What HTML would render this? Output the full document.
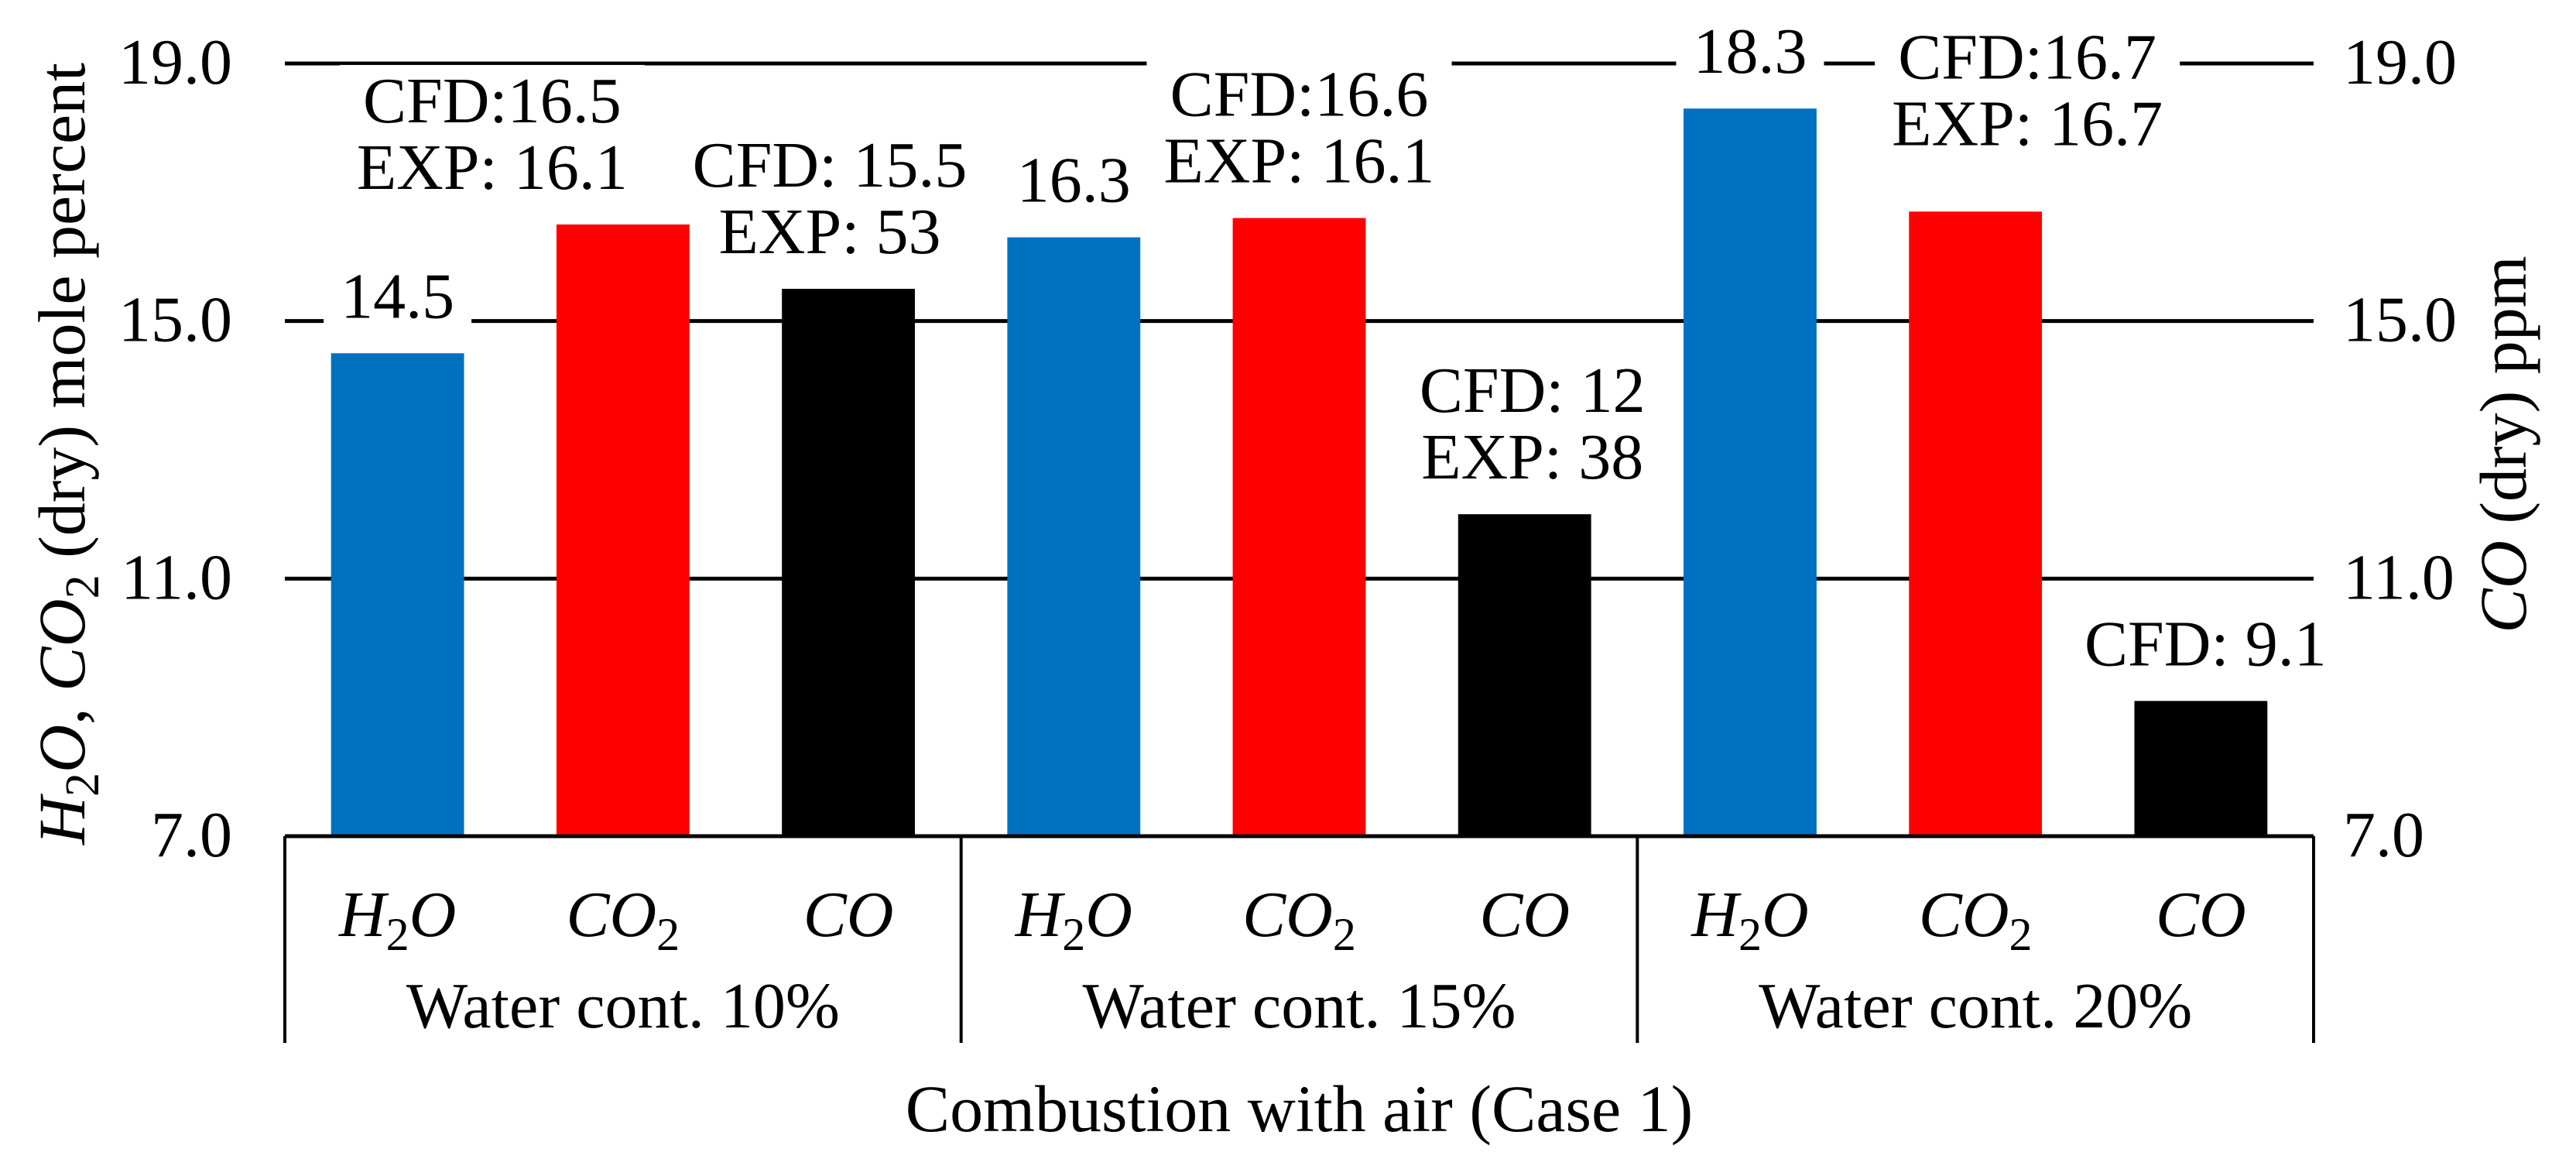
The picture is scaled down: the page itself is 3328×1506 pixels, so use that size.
<!DOCTYPE html>
<html><head><meta charset="utf-8"><style>
html,body{margin:0;padding:0;background:#fff;}
svg{display:block;font-family:"Liberation Serif","DejaVu Serif",serif;}
svg text{font-family:"Liberation Serif","DejaVu Serif",serif;fill:#000;}
</style></head><body>
<svg id="chart" width="3328" height="1506" viewBox="0 0 3328 1506" xmlns="http://www.w3.org/2000/svg" font-family="Liberation Serif, serif">
<rect x="0" y="0" width="3328" height="1506" fill="#fff"/>
<g id="grid"></g><g id="labelbg"></g><g id="bars"></g><g id="labels"></g><g id="axes"></g>
</svg>
<script>
const groups = ["Water cont. 10%", "Water cont. 15%", "Water cont. 20%"];
const species = ["H2O", "CO2", "CO"];
const values = [14.5, 16.5, 15.5, 16.3, 16.6, 12.0, 18.3, 16.7, 9.1];
const barLabels = [["14.5"], ["CFD:16.5", "EXP: 16.1"], ["CFD: 15.5", "EXP: 53"], ["16.3"], ["CFD:16.6", "EXP: 16.1"], ["CFD: 12", "EXP: 38"], ["18.3"], ["CFD:16.7", "EXP: 16.7"], ["CFD: 9.1"]];
const yTicks = [7, 11, 15, 19];
const yTickLabels = ["7.0", "11.0", "15.0", "19.0"];

const NS = "http://www.w3.org/2000/svg";
const FF = "Liberation Serif, serif";
const X0 = 368, X1 = 2989, Y0 = 1080, Y1 = 82, FS = 84;
const colors = {H2O: "#0070C0", CO2: "#FF0000", CO: "#000000"};
const labelDx = [0, -169, -24, 0, 0, 10, 0, 67, 6];
const labelLift = [0, 0, 0, 0, 0, 0, 0, 40, 0];
const catW = (X1 - X0) / (groups.length * species.length);
function y(v){ return Y0 - (v - yTicks[0]) / (yTicks[yTicks.length-1] - yTicks[0]) * (Y0 - Y1); }
function xc(i){ return X0 + catW * (i + 0.5); }
function mk(tag, attrs, parent){ const e = document.createElementNS(NS, tag); for (const k in attrs) e.setAttribute(k, attrs[k]); if (tag === 'text') e.setAttribute('font-family', FF); parent.appendChild(e); return e; }
const grid = document.getElementById('grid'), labelbg = document.getElementById('labelbg'), bars = document.getElementById('bars'), labels = document.getElementById('labels'), axes = document.getElementById('axes');

yTicks.forEach((t, i) => {
  if (i > 0) {
    const l = mk('line', {x1: X0, x2: X1, y1: y(t), y2: y(t), stroke: '#000', 'stroke-width': 5}, grid);
    
    
  }
  const tl = mk('text', {x: 300, y: y(t) + 26, 'text-anchor': 'end', 'font-size': FS}, axes);
  tl.textContent = yTickLabels[i];
  
  
  const tr = mk('text', {x: 3027, y: y(t) + 26, 'text-anchor': 'start', 'font-size': FS}, axes);
  tr.textContent = yTickLabels[i];
  
  
});

const bw = catW * 0.59;
values.forEach((v, i) => {
  const sp = species[i % 3];
  const r = mk('rect', {x: xc(i) - bw/2, y: y(v), width: bw, height: Y0 - y(v), fill: colors[sp]}, bars);
  
  
  const lines = barLabels[i];
  const cx = xc(i) + labelDx[i];
  const base = y(v) - 46 - labelLift[i];
  const g = mk('g', {}, labels);
  
  
  const bg = mk('rect', {fill: '#fff'}, labelbg);
  
  
  const texts = [];
  lines.forEach((s, k) => {
    const t = mk('text', {x: cx, y: base - (lines.length - 1 - k) * 86, 'text-anchor': 'middle', 'font-size': FS}, g);
    t.textContent = s;
    texts.push(t);
  });
  let bx = Infinity, by = Infinity, ex = -Infinity, ey = -Infinity;
  texts.forEach(t => { const b = t.getBBox(); bx = Math.min(bx, b.x); by = Math.min(by, b.y); ex = Math.max(ex, b.x + b.width); ey = Math.max(ey, b.y + b.height); });
  bg.setAttribute('x', bx - 22); bg.setAttribute('y', by); bg.setAttribute('width', ex - bx + 44); bg.setAttribute('height', ey - by);
});

const ax = mk('line', {x1: X0, x2: X1, y1: Y0, y2: Y0, stroke: '#000', 'stroke-width': 5}, axes);


for (let gI = 0; gI <= groups.length; gI++) {
  const gx = X0 + gI * catW * 3;
  const d = mk('line', {x1: gx, x2: gx, y1: Y0, y2: 1347, stroke: '#000', 'stroke-width': 4}, axes);
  
  
}
for (let i = 0; i < values.length; i++) {
  const sp = species[i % 3];
  const t = mk('text', {x: xc(i), y: 1209, 'text-anchor': 'middle', 'font-size': FS, 'font-style': 'italic'}, axes);
  if (sp === 'CO') t.textContent = 'CO';
  else {
    const a = sp === 'H2O' ? 'H' : 'CO';
    const b = sp === 'H2O' ? 'O' : '';
    t.appendChild(document.createTextNode(a));
    const sub = mk('tspan', {dy: 18, 'font-size': 60, 'font-style': 'normal'}, t); sub.textContent = '2';
    if (b) { const o = mk('tspan', {dy: -18}, t); o.textContent = b; }
  }
  
  
}
groups.forEach((g, gI) => {
  const t = mk('text', {x: X0 + (gI + 0.5) * catW * 3, y: 1327, 'text-anchor': 'middle', 'font-size': FS}, axes);
  t.textContent = g;
  
  
});
const xt = mk('text', {x: (X0 + X1) / 2, y: 1461, 'text-anchor': 'middle', 'font-size': 86}, axes);
xt.textContent = 'Combustion with air (Case 1)';



const yl = mk('text', {transform: 'translate(109,586) rotate(-90)', 'text-anchor': 'middle', 'font-size': 86}, axes);
yl.innerHTML = '<tspan font-style="italic">H</tspan><tspan dy="18" font-size="62">2</tspan><tspan dy="-18" font-style="italic">O</tspan>, <tspan font-style="italic">CO</tspan><tspan dy="18" font-size="62">2</tspan><tspan dy="-18"> (dry) mole percent</tspan>';


const yr = mk('text', {transform: 'translate(3263,574) rotate(-90)', 'text-anchor': 'middle', 'font-size': 86}, axes);
yr.innerHTML = '<tspan font-style="italic">CO</tspan> (dry) ppm';


</script>
</body></html>
